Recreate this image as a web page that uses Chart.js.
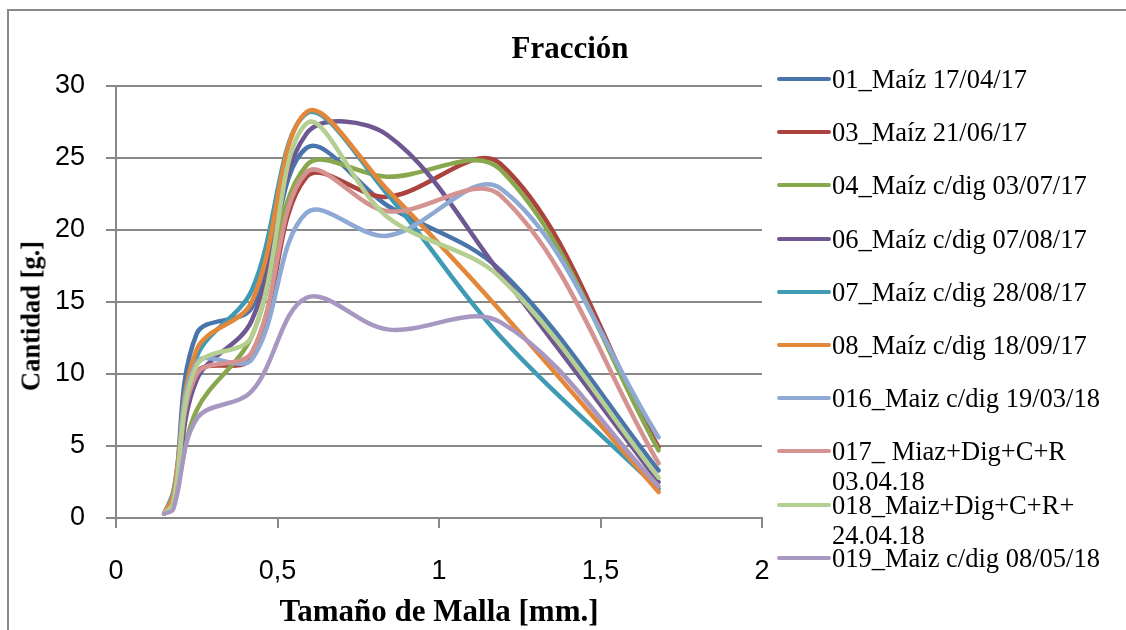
<!DOCTYPE html>
<html>
<head>
<meta charset="utf-8">
<script src="https://cdn.jsdelivr.net/npm/chart.js@4.4.1/dist/chart.umd.min.js"></script>
<style>
  body { margin: 0; background: #fff; }
  #wrap { position: relative; width: 1126px; height: 630px; overflow: hidden; }
  #frame { position: absolute; left: 7px; top: 9px; width: 1300px; height: 800px;
           border-left: 2px solid #8a8a8a; border-top: 2px solid #8a8a8a; }
  canvas { position: absolute; left: 0; top: 0; }
  #title { position: absolute; left: 420px; width: 300px; top: 30px; text-align: center;
           font: bold 31px "Liberation Serif"; color: #000; }
  #ytitle { position: absolute; left: 31px; top: 316px; width: 0; height: 0; }
  #ytitle span { position: absolute; left: 0; top: 0; transform: translate(-50%, -50%) rotate(-90deg);
                 white-space: nowrap; font: bold 26.5px "Liberation Serif"; color: #000; }
  .leg { position: absolute; left: 777px; width: 345px; font: 26.5px "Liberation Serif"; line-height: 30px; color: #000; }
  .leg .sw { position: absolute; left: 0; top: 13px; width: 54px; height: 4px; border-radius: 2px; }
  .leg .tx { margin-left: 55px; width: 285px; }
</style>
</head>
<body>
<div id="wrap">
  <div id="frame"></div>
  <canvas id="fraccionChart" width="1126" height="630"></canvas>
  <div id="title">Fracción</div>
  <div id="ytitle"><span>Cantidad [g.]</span></div>
  <div id="legend"></div>
</div>
<script>
// sieve opening (mm) for each fraction
var sizes = [0.149, 0.177, 0.25, 0.42, 0.59, 0.84, 1.19, 1.68];

var names = [
  '01_Maíz 17/04/17',
  '03_Maíz 21/06/17',
  '04_Maíz c/dig 03/07/17',
  '06_Maíz c/dig 07/08/17',
  '07_Maíz c/dig 28/08/17',
  '08_Maíz c/dig 18/09/17',
  '016_Maiz c/dig 19/03/18',
  '017_ Miaz+Dig+C+R 03.04.18',
  '018_Maiz+Dig+C+R+ 24.04.18',
  '019_Maiz c/dig 08/05/18'
];

// cantidad [g.] per fraction
var s01  = [0.3, 1.2, 12.8, 14.6, 25.7, 21.7, 17.2, 3.3];
var s03  = [0.3, 1.0, 10.1, 11.1, 23.7, 22.3, 24.6, 4.9];
var s04  = [0.3, 1.0, 7.5, 12.6, 24.5, 23.7, 24.2, 4.7];
var s06  = [0.3, 1.0, 9.6, 13.7, 26.7, 26.6, 17.0, 2.5];
var s07  = [0.3, 1.8, 11.2, 15.8, 28.1, 22.5, 12.6, 2.0];
var s08  = [0.3, 1.6, 11.7, 15.0, 28.2, 22.8, 14.4, 1.8];
var s016 = [0.3, 1.0, 10.8, 11.0, 21.2, 19.6, 22.9, 5.6];
var s017 = [0.3, 1.0, 10.0, 11.5, 24.0, 21.3, 22.4, 3.8];
var s018 = [0.3, 1.0, 10.6, 12.6, 27.4, 20.9, 16.7, 2.8];
var s019 = [0.3, 0.6, 6.9, 8.8, 15.3, 13.1, 13.6, 2.2];

var xTickLabels = ['0', '0,5', '1', '1,5', '2'];
var yTickLabels = ['0', '5', '10', '15', '20', '25', '30'];

var series = [s01, s03, s04, s06, s07, s08, s016, s017, s018, s019];
var colors = ['#4a75ab', '#aa423e', '#89a84d', '#6f5791', '#3f9bb3',
              '#e3883a', '#8eaad4', '#d49390', '#b5cf92', '#a898c1'];

var datasets = series.map(function (vals, i) {
  return {
    label: names[i],
    data: vals.map(function (v, j) { return { x: sizes[j], y: v }; }),
    showLine: true,
    borderColor: colors[i],
    backgroundColor: colors[i],
    borderWidth: 4.5,
    borderCapStyle: 'round',
    pointRadius: 0,
    tension: 0.35,
    fill: false,
    order: series.length - i
  };
});

// legend (Excel style, on the right)
var legend = document.getElementById('legend');
names.forEach(function (n, i) {
  var d = document.createElement('div');
  d.className = 'leg';
  d.style.top = (79 + i * 53.2 - 15) + 'px';
  d.innerHTML = '<div class="sw" style="background:' + colors[i] + '"></div><div class="tx"></div>';
  d.querySelector('.tx').textContent = n;
  legend.appendChild(d);
});

var ctx = document.getElementById('fraccionChart').getContext('2d');
new Chart(ctx, {
  type: 'scatter',
  data: { datasets: datasets },
  options: {
    responsive: false,
    animation: false,
    layout: { padding: { left: 0, top: 86, right: 364, bottom: 0 } },
    plugins: {
      legend: { display: false },
      title: { display: false },
      tooltip: { enabled: false }
    },
    scales: {
      x: {
        type: 'linear',
        min: 0,
        max: 2,
        ticks: {
          stepSize: 0.5,
          padding: 27,
          color: '#000',
          maxRotation: 0,
          font: { family: 'Liberation Sans', size: 27 },
          callback: function (v) { return xTickLabels[Math.round(v / 0.5)]; }
        },
        grid: { drawOnChartArea: false, drawTicks: true, tickLength: 10, color: '#888', lineWidth: 2 },
        border: { color: '#888', width: 2 },
        title: {
          display: true,
          text: 'Tamaño de Malla [mm.]',
          color: '#000',
          padding: { top: 0, bottom: 0 },
          font: { family: 'Liberation Serif', size: 31, weight: 'bold', lineHeight: 1.1 }
        },
        afterFit: function (s) { s.height = 112; }
      },
      y: {
        min: 0,
        max: 30,
        ticks: {
          stepSize: 5,
          padding: 21,
          color: '#000',
          font: { family: 'Liberation Sans', size: 27 },
          callback: function (v) { return yTickLabels[Math.round(v / 5)]; }
        },
        grid: { color: '#888', lineWidth: 2, tickLength: 10 },
        border: { color: '#888', width: 2 },
        afterFit: function (s) { s.width = 116; }
      }
    }
  }
});
</script>
</body>
</html>
